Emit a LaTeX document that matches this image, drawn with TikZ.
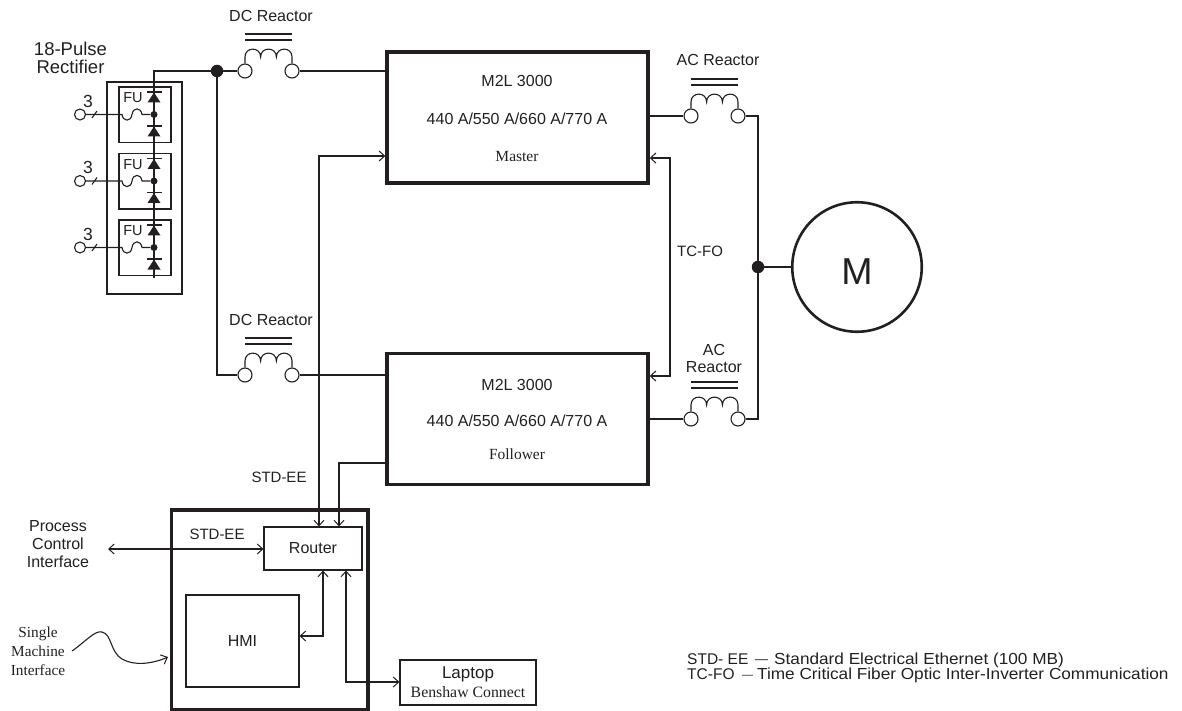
\documentclass[tikz,border=0pt]{standalone}
\usepackage{fontspec}
\setmainfont{Liberation Sans}
\newfontfamily\serifface{Liberation Serif}
\newfontfamily\legendface[FakeStretch=1.075]{Liberation Sans}
\newfontfamily\legendcaps{Liberation Sans}
\usetikzlibrary{arrows.meta}
\definecolor{ink}{HTML}{231F20}
\tikzset{
  wire/.style={draw=ink,line width=1.1pt},
  bar/.style={draw=ink,line width=1.3pt},
  arr/.style={wire,-{Straight Barb[length=5.5pt,width=10pt,line width=1pt]}},
  barr/.style={wire,{Straight Barb[length=5.5pt,width=10pt,line width=1pt]}-{Straight Barb[length=5.5pt,width=10pt,line width=1pt]}},
  thinbox/.style={draw=ink,line width=1.1pt,fill=white,inner sep=0pt},
  thickbox/.style={draw=ink,line width=3.4pt,inner sep=0pt},
  term/.style={circle,draw=ink,line width=1.1pt,fill=white,minimum size=14pt,inner sep=0pt},
  smallterm/.style={circle,draw=ink,line width=1.1pt,fill=white,minimum size=11pt,inner sep=0pt},
  bigdot/.style={circle,fill=ink,minimum size=12.5pt,inner sep=0pt},
  smalldot/.style={circle,fill=ink,minimum size=7pt,inner sep=0pt},
  lbl/.style={inner sep=0pt,text=ink,font=\fontsize{16}{18}\selectfont,align=center},
  slbl/.style={inner sep=0pt,text=ink,font=\fontsize{15.5}{18}\selectfont\serifface,align=center}
}
% #1 name prefix, #2 centre x, #3 wire y
\newcommand{\reactor}[3]{%
  \begin{scope}[shift={(#2,#3)}]
    \node[term] (#1a) at (-23.5,0) {};
    \node[term] (#1b) at (23.5,0) {};
    \coordinate (#1ba) at (-23.5,-37);
    \coordinate (#1bb) at (23.5,-37);
    \coordinate (#1ca) at (-23.5,-31);
    \coordinate (#1cb) at (23.5,-31);
    \draw[bar] (#1ba) -- (#1bb);
    \draw[bar] (#1ca) -- (#1cb);
    \draw[wire] (#1a.north) -- (-23.5,-14)
      .. controls (-23.5,-24.5) and (-7.9,-24.5) .. (-7.9,-14)
      .. controls (-7.9,-24.5) and (7.9,-24.5) .. (7.9,-14)
      .. controls (7.9,-24.5) and (23.5,-24.5) .. (23.5,-14) -- (#1b.north);
  \end{scope}}
% #1 name prefix, #2 box top y
\newcommand{\leg}[2]{%
  \begin{scope}[shift={(0,#2)}]
    \node[thinbox,minimum width=52pt,minimum height=55.5pt] (#1box) at (145,27.75) {};
    \node[lbl,font=\fontsize{14.5}{16}\selectfont] (#1fu) at (133,11) {FU};
    \node[smalldot] (#1dot) at (154,27.5) {};
    \node[smallterm] (#1in) at (80,27.5) {};
    \node[lbl,font=\fontsize{17.5}{20}\selectfont] (#1n) at (88,14) {3};
    \coordinate (#1f) at (122,27.5);
    \coordinate (#1g) at (142,27.5);
    \coordinate (#1s) at (92,31);
    \coordinate (#1t) at (97,24);
    \draw[wire] (#1in) -- (#1f)
      .. controls (123,35) and (131,35) .. (132,27.5)
      .. controls (133,20) and (141,20) .. (#1g) -- (#1dot);
    \draw[wire] (#1s) -- (#1t);
    \fill[ink] (154,5.5) -- (147.5,15.5) -- (160.5,15.5) -- cycle;
    \fill[ink] (154,39.5) -- (147.5,49.5) -- (160.5,49.5) -- cycle;
    \draw[bar,line width=1.1pt] (146.5,5) -- (161.5,5);
    \draw[bar,line width=1.1pt] (146.5,39) -- (161.5,39);
  \end{scope}}
\begin{document}
\begin{tikzpicture}[x=1pt,y=-1pt]
\useasboundingbox (0,0) rectangle (1182,711);
% rectifier
\node[draw=ink,line width=1.1pt,minimum width=75pt,minimum height=212pt,inner sep=0pt] (rect) at (144.5,188) {};
\node[lbl,font=\fontsize{18.5}{18}\selectfont] (rectlbl) at (70.5,58) {18-Pulse\\Rectifier};
\leg{la}{87}
\leg{lb}{153.5}
\leg{lc}{220}
\node[bigdot] (j1) at (217,71) {};
\coordinate (busend) at (154,278);
\coordinate (bustop) at (154,71);
\draw[wire] (busend) -- (bustop) -- (j1);
% drives
\node[thickbox,minimum width=261pt,minimum height=131pt] (master) at (517.5,117.5) {};
\node[thickbox,minimum width=261pt,minimum height=131pt] (follower) at (517.5,419) {};
\node[lbl] (m1) at (517,80.5) {M2L 3000};
\node[lbl] (m2) at (517,118.5) {440 A/550 A/660 A/770 A};
\node[slbl] (m3) at (517,156.5) {Master};
\node[lbl] (f1) at (517,384.5) {M2L 3000};
\node[lbl] (f2) at (517,420.5) {440 A/550 A/660 A/770 A};
\node[slbl] (f3) at (517,454.5) {Follower};
% reactors
\reactor{dcp}{268.5}{71}
\reactor{dcq}{268.5}{375}
\reactor{acp}{714.5}{116}
\reactor{acq}{714.5}{419}
\node[lbl] (dcpl) at (271,16) {DC Reactor};
\node[lbl] (dcql) at (271,320) {DC Reactor};
\node[lbl] (acpl) at (718,60) {AC Reactor};
\node[lbl,font=\fontsize{16}{17}\selectfont] (acql) at (714,358.5) {AC\\Reactor};
\draw[wire] (j1) -- (dcpa);
\draw[wire] (j1) |- (dcqa);
\draw[wire] (dcpb) -- (dcpb -| master.west);
\draw[wire] (dcqb) -- (dcqb -| follower.west);
\draw[wire] (acpa) -- (acpa -| master.east);
\draw[wire] (acqa) -- (acqa -| follower.east);
% motor
\node[bigdot] (mj) at (758,267) {};
\node[circle,draw=ink,line width=2.6pt,minimum size=129.5pt,inner sep=0pt] (motor) at (857,267) {};
\node[lbl,font=\fontsize{37.5}{40}\selectfont] (mlbl) at (857,272) {M};
\draw[wire] (acqb) -| (mj);
\draw[wire] (acpb) -| (mj);
\draw[wire] (mj) -- (motor);
% TC-FO
\coordinate (tca) at (670,158);
\coordinate (tcb) at (670,376);
\draw[barr] (tca -| master.east) -- (tca) -- (tcb) -- (tcb -| follower.east);
\node[lbl,font=\fontsize{15}{18}\selectfont] (tcl) at (700,251) {TC-FO};
% interface panel
\node[thickbox,minimum width=196.5pt,minimum height=199.5pt] (panel) at (269.75,609.75) {};
\node[thinbox,minimum width=98pt,minimum height=43pt,font=\fontsize{16}{18}\selectfont,text=ink] (router) at (313,548.5) {Router};
\node[thinbox,minimum width=113pt,minimum height=92pt,font=\fontsize{16}{18}\selectfont,text=ink] (hmi) at (242.5,641) {HMI};
\node[thinbox,minimum width=136pt,minimum height=45pt,align=center] (laptop) at (468,682.5) {};
\node[lbl,font=\fontsize{17}{18}\selectfont] (lap1) at (468,674) {Laptop};
\node[slbl,font=\fontsize{15.8}{16}\selectfont\serifface] (lap2) at (468,692) {Benshaw Connect};
\coordinate (ma) at (319,156);
\coordinate (fa) at (339,463);
\draw[barr] (ma -| master.west) -- (ma) -- (ma |- router.north);
\draw[arr] (fa -| follower.west) -- (fa) -- (fa |- router.north);
\coordinate (ha) at (323,636);
\draw[barr] (ha |- router.south) -- (ha) -- (ha -| hmi.east);
\coordinate (lp) at (346,682);
\draw[barr] (lp |- router.south) -- (lp) -- (lp -| laptop.west);
\coordinate (pc) at (108,549);
\draw[barr] (pc) -- (pc -| router.west);
\node[lbl,font=\fontsize{15}{18}\selectfont] (stdb) at (279,477) {STD-EE};
\node[lbl,font=\fontsize{15}{18}\selectfont] (stda) at (217,534) {STD-EE};
\node[lbl,font=\fontsize{16}{18}\selectfont] (pcl) at (58,544) {Process\\Control\\Interface};
\node[slbl,font=\fontsize{15.3}{19}\selectfont\serifface] (smi) at (38,651) {Single\\Machine\\Interface};
\coordinate (sa) at (72,651);
\coordinate (sb) at (168,657);
\draw[arr] (sa) .. controls (85,642) and (95,630) .. (102,632)
  .. controls (112,634) and (110,652) .. (122,659)
  .. controls (134,666) and (152,664) .. (sb);
% legend
\node[lbl,anchor=west,align=left,font=\fontsize{16}{15.5}\selectfont\legendface] (legend) at (687,668) {%
  \makebox[68pt][l]{\legendcaps\fontsize{15.5}{15.5}\selectfont STD- EE}\raisebox{1.2pt}{\legendcaps\fontsize{13}{15.5}\selectfont —}\hspace{6pt}Standard Electrical Ethernet (100 MB)\\
  \makebox[55pt][l]{\legendcaps\fontsize{15.5}{15.5}\selectfont TC-FO}\raisebox{1.2pt}{\legendcaps\fontsize{11}{15.5}\selectfont —}\hspace{4pt}Time Critical Fiber Optic Inter-Inverter Communication};
\end{tikzpicture}
\end{document}
